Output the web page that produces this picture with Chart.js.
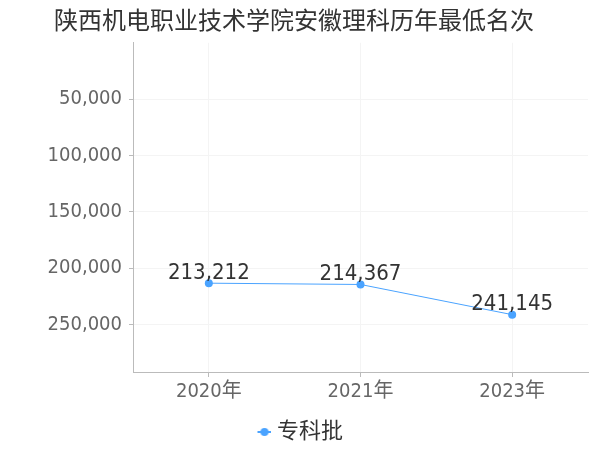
<!DOCTYPE html>
<html>
<head>
<meta charset="utf-8">
<script src="https://cdn.jsdelivr.net/npm/chart.js@4/dist/chart.umd.min.js"></script>
<style>
  html, body { margin: 0; padding: 0; background: #fff; }
  #box { width: 600px; height: 450px; }
</style>
</head>
<body>
<div id="box"><canvas id="chart-area"></canvas></div>
<script>
var years = ['2020年', '2021年', '2023年'];
var minRank = [213212, 214367, 241145];
var yTicks = [50000, 100000, 150000, 200000, 250000];
var seriesName = '专科批';

var lineBlue = '#4aa3ff';
var fontFam = '"DejaVu Sans Condensed", "DejaVu Sans", "Noto Sans CJK SC", sans-serif';

// legend marker: short line with a dot, drawn on the right side of a wider image
var marker = document.createElement('canvas');
marker.width = 32; marker.height = 10;
var mctx = marker.getContext('2d');
mctx.strokeStyle = lineBlue;
mctx.lineWidth = 2;
mctx.beginPath(); mctx.moveTo(18, 5); mctx.lineTo(32, 5); mctx.stroke();
mctx.fillStyle = lineBlue;
mctx.beginPath(); mctx.arc(25, 5, 4, 0, Math.PI * 2); mctx.fill();

var valueLabels = {
  id: 'valueLabels',
  afterDatasetsDraw: function (chart) {
    var ctx = chart.ctx;
    var meta = chart.getDatasetMeta(0);
    ctx.save();
    ctx.font = '22px ' + fontFam;
    ctx.fillStyle = '#333';
    ctx.textAlign = 'center';
    ctx.textBaseline = 'bottom';
    meta.data.forEach(function (pt, i) {
      ctx.fillText(minRank[i].toLocaleString('en-US'), pt.x, pt.y + 1);
    });
    ctx.restore();
  }
};

var config = {
  type: 'line',
  data: {
    labels: years,
    datasets: [{
      label: seriesName,
      data: minRank,
      borderColor: lineBlue,
      backgroundColor: lineBlue,
      borderWidth: 1,
      pointRadius: 4,
      pointHoverRadius: 4,
      pointBackgroundColor: lineBlue,
      pointBorderWidth: 0,
      tension: 0
    }]
  },
  options: {
    responsive: true,
    maintainAspectRatio: false,
    animation: false,
    layout: { padding: { left: 0, right: 12, top: 0, bottom: -3 } },
    plugins: {
      title: {
        display: true,
        text: '陕西机电职业技术学院安徽理科历年最低名次',
        color: '#333',
        font: { family: fontFam, size: 24, weight: 'normal' },
        padding: { top: 8, bottom: 6 }
      },
      legend: {
        position: 'bottom',
        labels: {
          usePointStyle: true,
          pointStyle: marker,
          pointStyleWidth: 21,
          color: '#333',
          font: { family: fontFam, size: 22 },
          padding: 13
        }
      },
      tooltip: { enabled: false }
    },
    scales: {
      x: {
        offset: true,
        afterFit: function (scale) { scale.height = 36; },
        grid: { offset: false, color: '#f4f4f4', tickColor: '#bbb', tickLength: 5 },
        border: { color: '#bbb' },
        ticks: { color: '#666', font: { family: fontFam, size: 20 }, padding: 3 }
      },
      y: {
        reverse: true,
        min: 0,
        max: 292000,
        afterBuildTicks: function (scale) {
          scale.ticks = yTicks.map(function (v) { return { value: v }; });
        },
        afterFit: function (scale) { scale.width = 133; },
        grid: { color: '#f4f4f4', tickColor: '#bbb', tickLength: 4 },
        border: { color: '#bbb' },
        ticks: {
          color: '#666',
          font: { family: fontFam, size: 20 },
          padding: 7,
          callback: function (v) { return v.toLocaleString('en-US'); }
        }
      }
    }
  },
  plugins: [valueLabels]
};

var ctx = document.getElementById('chart-area').getContext('2d');
window.myLine = new Chart(ctx, config);
</script>
</body>
</html>
